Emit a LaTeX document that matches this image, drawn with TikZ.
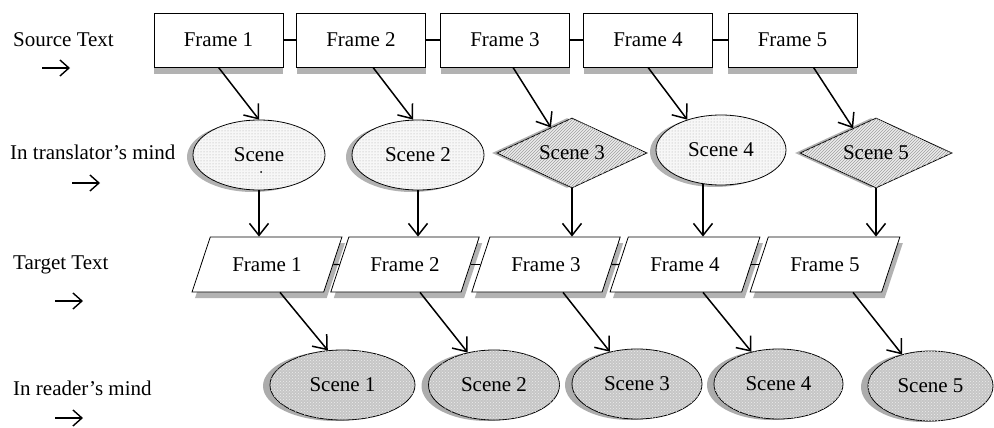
\documentclass[tikz,border=0pt]{standalone}
\usepackage{fontspec}
\setmainfont{Liberation Serif}
\newfontfamily\tnr{Liberation Serif}
\usetikzlibrary{shapes.geometric,arrows.meta,patterns,shadows,calc}
\begin{document}
\begin{tikzpicture}[x=1pt,y=-1pt,
  txt/.style={font=\tnr\fontsize{21}{25}\selectfont},
  lbl/.style={txt, anchor=west, inner sep=0},
  fr/.style={txt, draw, line width=0.8pt, fill=white, rectangle, minimum width=129pt, minimum height=54pt, inner sep=0,
     general shadow={fill=gray!60, shadow yshift=-7pt}},
  para/.style={txt, draw, line width=0.8pt, fill=white, trapezium, trapezium left angle=56.8, trapezium right angle=123.2,
     trapezium stretches=true, minimum width=150pt, minimum height=55pt, inner sep=2pt,
     general shadow={fill=gray!60, shadow xshift=3pt, shadow yshift=-6pt}},
  sc/.style={txt, draw, line width=0.8pt, ellipse, inner sep=0, minimum height=70pt, fill=gray!6,
     postaction={pattern=dots, pattern color=gray!70},
     general shadow={fill=gray!60, shadow xshift=-6pt, shadow yshift=-2pt}},
  dm/.style={txt, draw, line width=0.8pt, diamond, inner sep=0, minimum height=70pt, shape aspect=2.14, fill=gray!15,
     postaction={pattern=north east lines, pattern color=gray!75},
     general shadow={fill=gray!60, shadow xshift=-5pt}},
  rd/.style={txt, draw, line width=0.8pt, ellipse, inner sep=0, minimum height=70pt, fill=gray!45,
     postaction={pattern=crosshatch dots, pattern color=white!85!gray},
     general shadow={fill=gray!65, shadow xshift=-7pt, shadow yshift=-1pt}},
  arr/.style={line width=1.5pt, -{Straight Barb[length=12pt, width=19pt]}},
  larr/.style={line width=1.4pt, -{Straight Barb[length=9pt, width=16pt]}},
  lnk/.style={line width=1.2pt}
]
\useasboundingbox (0,0) rectangle (994,428);

% left labels
\node[lbl] (l1) at (13,40) {Source Text};
\node[lbl] (l2) at (10,152) {In translator’s mind};
\node[lbl] (l3) at (13,265) {Target Text};
\node[lbl] (l4) at (13,388) {In reader’s mind};
\coordinate (a1s) at (42,68);  \coordinate (a1e) at (70,68);
\coordinate (a2s) at (72,183); \coordinate (a2e) at (100,183);
\coordinate (a3s) at (55,301); \coordinate (a3e) at (83,301);
\coordinate (a4s) at (55,418); \coordinate (a4e) at (83,418);
\draw[larr] (a1s) -- (a1e);
\draw[larr] (a2s) -- (a2e);
\draw[larr] (a3s) -- (a3e);
\draw[larr] (a4s) -- (a4e);

% row 1: source frames
\node[fr] (F1) at (218.5,40) {Frame 1};
\node[fr] (F2) at (361,40) {Frame 2};
\node[fr] (F3) at (505,40) {Frame 3};
\node[fr] (F4) at (648,40) {Frame 4};
\node[fr] (F5) at (792.5,40) {Frame 5};
\draw[lnk] (F1.east) -- (F2.west);
\draw[lnk] (F2.east) -- (F3.west);
\draw[lnk] (F3.east) -- (F4.west);
\draw[lnk] (F4.east) -- (F5.west);

% row 2: translator's scenes
\node[sc, minimum width=132pt] (S1) at (259,155) {Scene};
\fill (261,172) circle (1pt);
\node[sc, minimum width=132pt] (S2) at (418,155) {Scene 2};
\node[dm, minimum width=150pt] (S3) at (572,153) {Scene 3};
\node[sc, minimum width=130pt] (S4) at (721,150) {Scene 4};
\node[dm, minimum width=152pt] (S5) at (876,153) {Scene 5};

% row 3: target frames
\node[para] (P1) at (267,264.5) {Frame 1};
\node[para] (P2) at (405,264.5) {Frame 2};
\node[para] (P3) at (546,264.5) {Frame 3};
\node[para] (P4) at (685,264.5) {Frame 4};
\node[para] (P5) at (825,264.5) {Frame 5};
\draw[lnk] (P1.east) -- (P2.west);
\draw[lnk] (P2.east) -- (P3.west);
\draw[lnk] (P3.east) -- (P4.west);
\draw[lnk] (P4.east) -- (P5.west);

% row 4: reader's scenes
\node[rd, minimum width=145pt] (R1) at (342.5,385) {Scene 1};
\node[rd, minimum width=131pt] (R2) at (494,385) {Scene 2};
\node[rd, minimum width=130pt] (R3) at (637,384) {Scene 3};
\node[rd, minimum width=129pt] (R4) at (778.5,384) {Scene 4};
\node[rd, minimum width=125pt] (R5) at (930.5,386) {Scene 5};

% arrows row 1 -> row 2
\draw[arr] (F1.south) -- (S1.north);
\draw[arr] ([xshift=12pt]F2.south) -- ([xshift=-5pt]S2.north);
\draw[arr] ([xshift=8pt]F3.south) -- ($(S3.north)!0.28!(S3.west)$);
\draw[arr] (F4.south) -- (S4.138);
\draw[arr] ([xshift=21pt]F5.south) -- ($(S5.north)!0.3!(S5.west)$);

% arrows row 2 -> row 3
\coordinate (s4b) at ($(S4.south)+(-18,-1)$);
\draw[arr] (S1.south) -- (S1.south |- P1.north);
\draw[arr] (S2.south) -- (S2.south |- P2.north);
\draw[arr] (S3.south) -- (S3.south |- P3.north);
\draw[arr] (s4b) -- (s4b |- P4.north);
\draw[arr] (S5.south) -- (S5.south |- P5.north);

% arrows row 3 -> row 4
\draw[arr] ([xshift=13pt]P1.south) -- (R1.113);
\draw[arr] ([xshift=15pt]P2.south) -- (R2.129);
\draw[arr] ([xshift=17pt]P3.south) -- (R3.130);
\draw[arr] ([xshift=18pt]P4.south) -- (R4.130);
\draw[arr] ([xshift=28pt]P5.south) -- (R5.132);
\end{tikzpicture}
\end{document}
